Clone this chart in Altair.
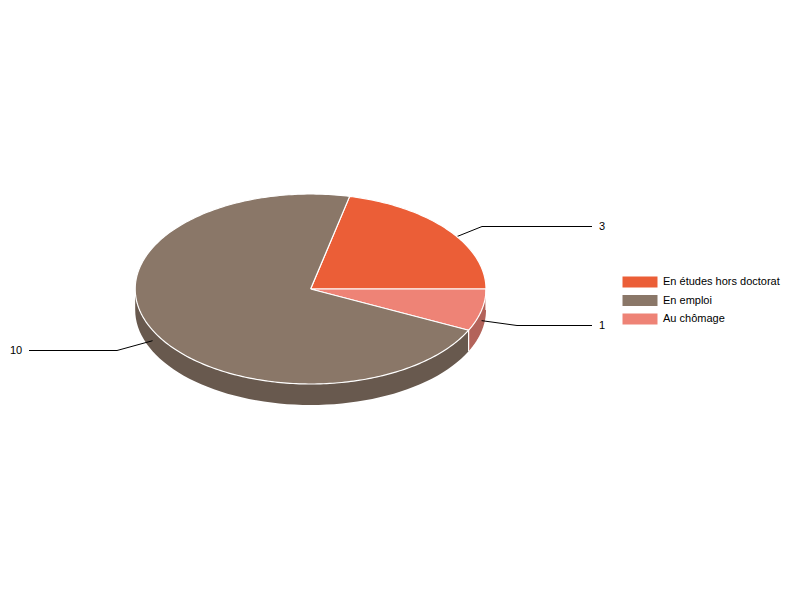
import math
import altair as alt
import pandas as pd

categories = ["En études hors doctorat", "En emploi", "Au chômage"]
values = [3, 10, 1]
top_colors = ["#EB5E37", "#8A7768", "#EE8376"]
wall_colors = ["#B34A2C", "#68594E", "#B3635A"]
# clockwise drawing order round the pie, starting at the first slice
draw_order = [0, 2, 1]
start_angle = 12.86

# leader lines: elbow and end positions on the page
elbow_x = {0: 482, 1: 117, 2: 517}
elbow_y = {0: 226.5, 1: 350.5, 2: 325.5}
end_x = {0: 592, 1: 29, 2: 592}
label_x = {0: 599, 1: 10, 2: 599}

CX, CY, RX, RY, DEPTH = 310.6, 289.0, 175.4, 95.0, 21.0
PAGE = 8


def pt(deg, dy=0.0):
    a = math.radians(deg)
    return CX + RX * math.sin(a), CY - RY * math.cos(a) + dy


total = sum(values)
tops, walls, leaders, labels, seams = [], [], [], [], []
ang = start_angle
for i in draw_order:
    span = values[i] / total * 360
    a0, a1 = ang, ang + span
    steps = max(2, int(span))
    arc = [a0 + (a1 - a0) * k / steps for k in range(steps + 1)]

    poly = [(CX, CY)] + [pt(a) for a in arc] + [(CX, CY)]
    for n, (x, y) in enumerate(poly):
        tops.append(dict(cat=categories[i], n=n, x=x, y=y))

    # visible outer wall: only the front half of the ellipse
    lo, hi = max(a0, 90), min(a1, 270)
    if hi > lo:
        w = [lo + (hi - lo) * k / 60 for k in range(61)]
        ring = [pt(a) for a in w] + [pt(a, DEPTH) for a in reversed(w)]
        for n, (x, y) in enumerate(ring):
            walls.append(dict(cat="w" + str(i), color=wall_colors[i], n=n, x=x, y=y))
        if a0 >= 90:
            seams.append(dict(x=pt(a0)[0], y=pt(a0)[1], y2=pt(a0, DEPTH)[1]))

    mid = (a0 + a1) / 2
    sx, sy = pt(mid, DEPTH / 2)
    for n, (x, y) in enumerate([(sx, sy), (elbow_x[i], elbow_y[i]), (end_x[i], elbow_y[i])]):
        leaders.append(dict(cat=categories[i], n=n, x=x, y=y))
    labels.append(dict(x=label_x[i], y=elbow_y[i], text=str(values[i])))
    ang = a1

W, H = 784, 584
xs = alt.Scale(domain=[PAGE, PAGE + W], nice=False, zero=False)
ys = alt.Scale(domain=[PAGE + H, PAGE], nice=False, zero=False)
X = alt.X("x:Q", scale=xs, axis=None)
Y = alt.Y("y:Q", scale=ys, axis=None)
FONT = "Liberation Sans"

leader_layer = alt.Chart(pd.DataFrame(leaders)).mark_line(
    color="#000000", strokeWidth=1, interpolate="linear"
).encode(X, Y, detail="cat:N", order="n:Q")

wall_layer = alt.Chart(pd.DataFrame(walls)).mark_line(strokeWidth=0).encode(
    X, Y, detail="cat:N", order="n:Q",
    fill=alt.Fill("color:N", scale=None, legend=None),
)

top_layer = alt.Chart(pd.DataFrame(tops)).mark_line(
    stroke="#FFFFFF", strokeWidth=1.2, strokeJoin="round"
).encode(
    X, Y, order="n:Q",
    fill=alt.Fill(
        "cat:N",
        scale=alt.Scale(domain=categories, range=top_colors),
        legend=alt.Legend(
            title=None,
            orient="none",
            legendX=623,
            legendY=265,
            padding=0,
            symbolType="M-1.944,-0.611H1.944V0.611H-1.944Z",
            symbolSize=324,
            symbolStrokeWidth=0,
            symbolOpacity=1,
            rowPadding=3.5,
            labelOffset=14,
            labelFont=FONT,
            labelFontSize=11,
            labelColor="#000000",
            labelLimit=200,
        ),
    ),
)

seam_layer = alt.Chart(pd.DataFrame(seams)).mark_rule(
    color="#FFFFFF", strokeWidth=1.2
).encode(X, Y, y2="y2:Q")

label_layer = alt.Chart(pd.DataFrame(labels)).mark_text(
    align="left", baseline="middle", font=FONT, fontSize=11, color="#000000"
).encode(X, Y, text="text:N")

chart = (
    alt.layer(wall_layer, leader_layer, top_layer, seam_layer, label_layer)
    .resolve_scale(fill="independent")
    .properties(
        width=W,
        height=H,
        padding=0,
        autosize=alt.AutoSizeParams(type="none"),
        background="#FFFFFF",
    )
    .configure_view(stroke=None)
)

chart.save("out.html", embed_options={"renderer": "svg", "actions": False})
